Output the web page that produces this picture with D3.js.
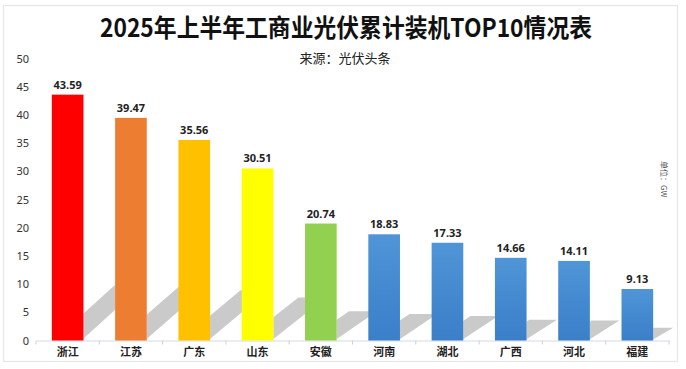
<!DOCTYPE html>
<html><head><meta charset="utf-8">
<script src="https://cdn.jsdelivr.net/npm/d3@7"></script>
<style>body{margin:0;background:#fff;}svg{display:block;}</style>
</head><body>
<script>
const categories = ["浙江","江苏","广东","山东","安徽","河南","湖北","广西","河北","福建"];
const values = [43.59,39.47,35.56,30.51,20.74,18.83,17.33,14.66,14.11,9.13];
const colors = ["#FF0000","#ED7D31","#FFC000","#FFFF00","#92D050","url(#blue)","url(#blue)","url(#blue)","url(#blue)","url(#blue)"];
const yTicks = [0,5,10,15,20,25,30,35,40,45,50];
const title = "2025年上半年工商业光伏累计装机TOP10情况表";
const subtitle = "来源：光伏头条";
const unit = "单位：GW";

const W = 686, H = 369;
const svg = d3.select("body").append("svg").attr("width", W).attr("height", H);
const defs = svg.append("defs");
const bg = defs.append("linearGradient").attr("id","blue").attr("x1",0).attr("y1",0).attr("x2",0).attr("y2",1);
bg.append("stop").attr("offset","0%").attr("stop-color","#4f95d7");
bg.append("stop").attr("offset","100%").attr("stop-color","#3a7fc8");

svg.append("rect").attr("x",3.5).attr("y",5.5).attr("width",674).attr("height",356)
  .attr("fill","#fff").attr("stroke","#e6e6e6").attr("stroke-width",1.2);

svg.append("text").attr("x",346).attr("y",37).attr("text-anchor","middle")
  .attr("font-family","'Noto Sans CJK SC', sans-serif").attr("font-weight","bold")
  .attr("font-size",25).attr("fill","#111")
  .attr("textLength",492).attr("lengthAdjust","spacingAndGlyphs").text(title);
svg.append("text").attr("x",345).attr("y",63).attr("text-anchor","middle")
  .attr("font-family","'Noto Sans CJK SC', sans-serif").attr("font-size",13).attr("fill","#222").text(subtitle);

const x = d3.scaleBand().domain(categories).range([36, 669]).paddingInner(0.5).paddingOuter(0.25);
const y = d3.scaleLinear().domain([0,50]).range([340.5, 58.5]);
const base = y(0);
const step = x.step(), bw = x.bandwidth();

// y axis labels
const ya = svg.append("g").attr("transform","translate(29,0)")
  .call(d3.axisLeft(y).tickValues(yTicks).tickSize(0).tickPadding(0));
ya.select(".domain").remove();
ya.selectAll("text").attr("font-family","'Noto Sans', sans-serif").attr("font-size",11).attr("fill","#333");

const data = categories.map((c,i)=>({c, v:values[i], col:colors[i], i}));

// shadow clip regions (gap to the right of each bar)
data.forEach(d => {
  defs.append("clipPath").attr("id","sc"+d.i).append("rect")
    .attr("x", x(d.c) + bw).attr("y", 0).attr("width", step - bw + 0.5).attr("height", base);
});

// shadows
svg.append("g").selectAll("path").data(data).join("path")
  .attr("fill","#cacaca")
  .attr("clip-path", d => `url(#sc${d.i})`)
  .attr("d", d => {
    const x0 = x(d.c), x1 = x0 + bw;
    const h = base - y(d.v), hs = 0.25*h;
    const s = 0.5 + hs/150, dx = hs/s;
    const a = x0 + 2, b = x1 - 2;
    return `M${a},${base}L${b},${base}L${b+dx},${base-hs}L${a+dx},${base-hs}Z`;
  });

// x axis
const xa = svg.append("g").attr("transform",`translate(0,${base})`)
  .call(d3.axisBottom(x).tickSize(0).tickPadding(8));
xa.select(".domain").attr("stroke","#d3dbe4");
xa.selectAll("text").attr("font-family","'Noto Sans CJK SC', sans-serif").attr("font-weight","bold").attr("font-size",11).attr("fill","#222");
svg.append("g").selectAll("line").data(d3.range(categories.length+1)).join("line")
  .attr("x1", i => 36 + i*step).attr("x2", i => 36 + i*step)
  .attr("y1", base).attr("y2", base+4).attr("stroke","#c9d1da");

// bars
svg.append("g").selectAll("rect").data(data).join("rect")
  .attr("x", d => x(d.c)).attr("width", bw)
  .attr("y", d => y(d.v)).attr("height", d => base - y(d.v))
  .attr("fill", d => d.col);

// value labels
svg.append("g").selectAll("text").data(data).join("text")
  .attr("x", d => x(d.c) + bw/2).attr("y", d => y(d.v) - 6)
  .attr("text-anchor","middle").attr("font-family","'Noto Sans', sans-serif")
  .attr("font-weight","bold").attr("font-size",11).attr("fill","#222")
  .text(d => d.v.toFixed(2));

// unit
svg.append("text").attr("transform","translate(661,161) rotate(90)")
  .attr("font-family","'Noto Sans CJK SC', sans-serif").attr("font-size",8).attr("fill","#555").text(unit);
</script>
</body></html>
